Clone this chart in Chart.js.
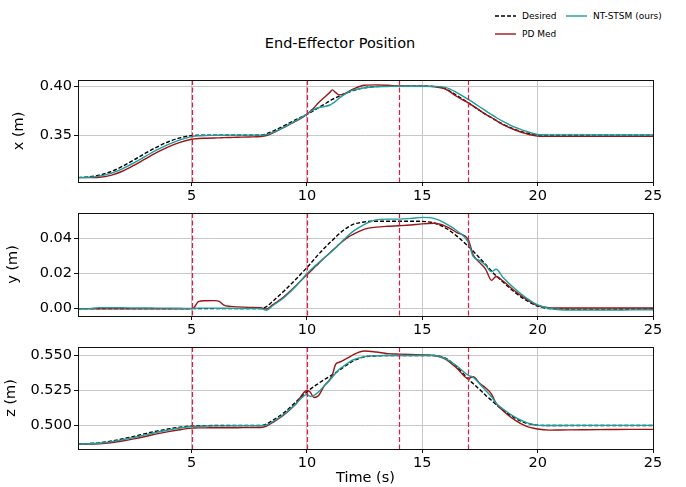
<!DOCTYPE html>
<html>
<head>
<meta charset="utf-8">
<script src="https://cdn.jsdelivr.net/npm/chart.js@4.4.1/dist/chart.umd.min.js"></script>
<style>
  html, body { margin: 0; padding: 0; background: #fff; }
  body { width: 686px; height: 487px; position: relative; overflow: hidden; font-family: 'DejaVu Sans', sans-serif; color: #000; }
  .panel { position: absolute; left: 0; }
  #title { position: absolute; top: 34px; left: 0; width: 680px; text-align: center; font-size: 14.5px; line-height: 18px; }
  .leg { position: absolute; font-size: 9px; line-height: 11px; white-space: nowrap; }
  .sw { position: absolute; }
</style>
</head>
<body>
<div id="title">End-Effector Position</div>

<svg class="sw" style="left:495px;top:11px" width="21" height="10"><line x1="0" y1="5" x2="21" y2="5" stroke="#000" stroke-width="1.4" stroke-dasharray="4 2"/></svg>
<div class="leg" style="left:522px;top:10.5px">Desired</div>
<svg class="sw" style="left:566px;top:11px" width="21" height="10"><line x1="0" y1="5" x2="21" y2="5" stroke="#1b9e9e" stroke-width="1.4"/></svg>
<div class="leg" style="left:593px;top:10.5px">NT-STSM (ours)</div>
<svg class="sw" style="left:495px;top:29px" width="21" height="10"><line x1="0" y1="5" x2="21" y2="5" stroke="#9c1414" stroke-width="1.4"/></svg>
<div class="leg" style="left:522px;top:28.5px">PD Med</div>

<canvas id="cx" class="panel" style="top:60px" width="686" height="150"></canvas>
<canvas id="cy" class="panel" style="top:200px" width="686" height="140"></canvas>
<canvas id="cz" class="panel" style="top:335px" width="686" height="152"></canvas>

<script>
// time stamps (s)
const time = [0.08, 0.5, 1, 1.5, 2, 2.5, 3, 3.5, 4, 4.5,
  5, 5.1, 5.3, 5.6, 6, 6.2, 6.4, 6.7, 7, 7.5,
  8, 8.25, 8.5, 9, 9.5, 10, 10.15, 10.3, 10.5, 10.75,
  11, 11.1, 11.25, 11.4, 11.6, 11.8, 12, 12.5, 13, 13.5,
  14, 14.5, 15, 15.5, 16, 16.5, 17, 17.2, 17.5, 17.75,
  18, 18.2, 18.5, 19, 19.5, 20, 20.5, 21, 22, 23, 24, 25];

// x (m)
const xDesired = [0.3065, 0.3072, 0.3090, 0.3125, 0.3180, 0.3245, 0.3315, 0.3378, 0.3432, 0.3472,
  0.3495, 0.3497, 0.3499, 0.3500, 0.3500, 0.3500, 0.3500, 0.3500, 0.3500, 0.3500,
  0.3500, 0.3513, 0.3537, 0.3595, 0.3655, 0.3712, 0.3732, 0.3752, 0.3780, 0.3815,
  0.3852, 0.3865, 0.3882, 0.3898, 0.3918, 0.3937, 0.3955, 0.3985, 0.3997, 0.4000,
  0.4000, 0.4000, 0.4000, 0.3998, 0.3975, 0.3905, 0.3830, 0.3798, 0.3750, 0.3712,
  0.3678, 0.3650, 0.3612, 0.3560, 0.3522, 0.3502, 0.3500, 0.3500, 0.3500, 0.3500, 0.3500, 0.3500];
const xOurs = [0.3065, 0.3068, 0.3080, 0.3108, 0.3155, 0.3215, 0.3282, 0.3348, 0.3405, 0.3452,
  0.3485, 0.3489, 0.3493, 0.3496, 0.3498, 0.3499, 0.3499, 0.3500, 0.3500, 0.3500,
  0.3500, 0.3505, 0.3525, 0.3580, 0.3645, 0.3715, 0.3740, 0.3762, 0.3780, 0.3792,
  0.3808, 0.3822, 0.3848, 0.3878, 0.3912, 0.3940, 0.3960, 0.3985, 0.3995, 0.3998,
  0.4000, 0.4000, 0.4000, 0.3999, 0.3988, 0.3935, 0.3865, 0.3835, 0.3788, 0.3748,
  0.3710, 0.3680, 0.3640, 0.3582, 0.3540, 0.3506, 0.3502, 0.3502, 0.3502, 0.3501, 0.3501, 0.3501];
const xPd = [0.3065, 0.3065, 0.3068, 0.3088, 0.3130, 0.3190, 0.3257, 0.3322, 0.3380, 0.3425,
  0.3458, 0.3461, 0.3465, 0.3468, 0.3471, 0.3472, 0.3474, 0.3476, 0.3478, 0.3481,
  0.3486, 0.3496, 0.3520, 0.3578, 0.3640, 0.3712, 0.3745, 0.3778, 0.3830, 0.3885,
  0.3938, 0.3963, 0.3935, 0.3912, 0.3922, 0.3945, 0.3970, 0.4010, 0.4014, 0.4010,
  0.4003, 0.4001, 0.4000, 0.3996, 0.3972, 0.3895, 0.3830, 0.3800, 0.3752, 0.3712,
  0.3680, 0.3650, 0.3608, 0.3555, 0.3515, 0.3490, 0.3487, 0.3487, 0.3487, 0.3487, 0.3487, 0.3487];

// y (m)
const yDesired = [0, 0, 0, 0, 0, 0, 0, 0, 0, 0,
  0, 0, 0, 0, 0, 0, 0, 0, 0, 0,
  0.0000, 0.0012, 0.0040, 0.0100, 0.0165, 0.0235, 0.0257, 0.0280, 0.0310, 0.0345,
  0.0378, 0.0390, 0.0410, 0.0428, 0.0450, 0.0468, 0.0482, 0.0496, 0.0500, 0.0500,
  0.0500, 0.0500, 0.0499, 0.0490, 0.0462, 0.0415, 0.0356, 0.0330, 0.0288, 0.0252,
  0.0215, 0.0188, 0.0152, 0.0095, 0.0048, 0.0015, 0.0000, -0.0003, -0.0004, -0.0004, -0.0003, -0.0002];
const yOurs = [-0.0002, -0.0001, 0.0006, 0.0005, 0.0005, 0.0004, 0.0004, 0.0003, 0.0003, 0.0002,
  0.0001, 0.0002, 0.0003, 0.0003, 0.0003, 0.0002, 0.0002, 0.0002, 0.0001, 0.0001,
  0.0000, -0.0009, 0.0015, 0.0062, 0.0125, 0.0200, 0.0220, 0.0238, 0.0262, 0.0290,
  0.0318, 0.0330, 0.0348, 0.0368, 0.0395, 0.0420, 0.0442, 0.0482, 0.0508, 0.0512,
  0.0512, 0.0516, 0.0522, 0.0516, 0.0488, 0.0445, 0.0378, 0.0300, 0.0275, 0.0248,
  0.0212, 0.0225, 0.0178, 0.0115, 0.0062, 0.0022, 0.0002, -0.0006, -0.0008, -0.0008, -0.0007, -0.0006];
const yPd = [0.0000, 0.0000, -0.0001, -0.0001, -0.0001, -0.0001, -0.0001, -0.0001, -0.0001, -0.0001,
  0.0000, 0.0005, 0.0040, 0.0045, 0.0046, 0.0042, 0.0020, 0.0013, 0.0010, 0.0007,
  0.0005, -0.0002, 0.0020, 0.0068, 0.0128, 0.0194, 0.0212, 0.0232, 0.0257, 0.0290,
  0.0320, 0.0332, 0.0350, 0.0368, 0.0390, 0.0410, 0.0425, 0.0455, 0.0466, 0.0471,
  0.0474, 0.0478, 0.0485, 0.0488, 0.0472, 0.0435, 0.0392, 0.0310, 0.0262, 0.0225,
  0.0162, 0.0184, 0.0158, 0.0102, 0.0055, 0.0018, 0.0006, 0.0004, 0.0004, 0.0004, 0.0004, 0.0004];

// z (m)
const zDesired = [0.4868, 0.4870, 0.4876, 0.4888, 0.4904, 0.4922, 0.4942, 0.4960, 0.4975, 0.4988,
  0.4996, 0.4997, 0.4998, 0.4999, 0.5000, 0.5000, 0.5000, 0.5000, 0.5000, 0.5000,
  0.5000, 0.5010, 0.5035, 0.5090, 0.5165, 0.5240, 0.5260, 0.5278, 0.5300, 0.5328,
  0.5352, 0.5362, 0.5378, 0.5395, 0.5418, 0.5440, 0.5462, 0.5490, 0.5498, 0.5500,
  0.5500, 0.5500, 0.5500, 0.5500, 0.5482, 0.5420, 0.5330, 0.5300, 0.5255, 0.5215,
  0.5180, 0.5150, 0.5110, 0.5055, 0.5018, 0.5002, 0.5000, 0.5000, 0.5000, 0.5000, 0.5000, 0.5000];
const zOurs = [0.4868, 0.4869, 0.4873, 0.4883, 0.4897, 0.4914, 0.4933, 0.4952, 0.4968, 0.4982,
  0.4993, 0.4994, 0.4995, 0.4996, 0.4997, 0.4997, 0.4997, 0.4998, 0.4998, 0.4998,
  0.4998, 0.5004, 0.5025, 0.5080, 0.5150, 0.5222, 0.5208, 0.5215, 0.5240, 0.5283,
  0.5325, 0.5345, 0.5375, 0.5402, 0.5425, 0.5448, 0.5468, 0.5492, 0.5498, 0.5500,
  0.5500, 0.5500, 0.5500, 0.5500, 0.5478, 0.5425, 0.5358, 0.5345, 0.5295, 0.5250,
  0.5205, 0.5160, 0.5118, 0.5062, 0.5022, 0.5001, 0.5000, 0.5000, 0.5001, 0.5001, 0.5001, 0.5001];
const zPd = [0.4868, 0.4868, 0.4870, 0.4877, 0.4889, 0.4904, 0.4921, 0.4940, 0.4956, 0.4970,
  0.4981, 0.4982, 0.4983, 0.4983, 0.4984, 0.4984, 0.4984, 0.4984, 0.4984, 0.4985,
  0.4986, 0.4995, 0.5020, 0.5075, 0.5150, 0.5250, 0.5238, 0.5200, 0.5212, 0.5283,
  0.5330, 0.5360, 0.5438, 0.5452, 0.5468, 0.5485, 0.5505, 0.5532, 0.5525, 0.5514,
  0.5510, 0.5507, 0.5505, 0.5500, 0.5475, 0.5410, 0.5335, 0.5348, 0.5300, 0.5268,
  0.5225, 0.5158, 0.5105, 0.5040, 0.4995, 0.4975, 0.4967, 0.4968, 0.4970, 0.4971, 0.4972, 0.4972];

const eventTimes = [5, 10, 14, 17];
const timeTicks = [5, 10, 15, 20, 25];
const xTicks = [0.35, 0.40];
const yTicks = [0.00, 0.02, 0.04];
const zTicks = [0.500, 0.525, 0.550];

Chart.defaults.font.family = "'DejaVu Sans', sans-serif";
Chart.defaults.font.size = 14.5;
Chart.defaults.color = '#000';

// black frame around each axes + red dashed event lines
const framePlugin = {
    id: 'framePlugin',
    afterDatasetsDraw(chart) {
        const ctx = chart.ctx;
        const a = chart.chartArea;
        const sx = chart.scales.x;
        ctx.save();
        ctx.strokeStyle = '#e8173f';
        ctx.lineWidth = 1.2;
        ctx.setLineDash([5, 2.5]);
        eventTimes.forEach(function (t) {
            const px = Math.round(sx.getPixelForValue(t)) + 0.5;
            ctx.beginPath();
            ctx.moveTo(px, a.top);
            ctx.lineTo(px, a.bottom);
            ctx.stroke();
        });
        ctx.setLineDash([]);
        ctx.strokeStyle = '#111';
        ctx.lineWidth = 1;
        ctx.strokeRect(a.left + 0.5, a.top + 0.5, a.right - a.left, a.bottom - a.top);
        ctx.restore();
    }
};

function pts(vals) {
    return time.map(function (t, i) { return { x: t, y: vals[i] }; });
}

function makePanel(id, p) {
    new Chart(document.getElementById(id), {
        type: 'line',
        data: {
            datasets: [
                { label: 'Desired', data: pts(p.desired), borderColor: '#000', borderDash: [4, 2], borderWidth: 1.4, order: 2 },
                { label: 'PD Med', data: pts(p.pd), borderColor: '#9c1414', borderWidth: 1.4, order: 1 },
                { label: 'NT-STSM (ours)', data: pts(p.ours), borderColor: '#1b9e9e', borderWidth: 1.4, order: 0 }
            ]
        },
        options: {
            responsive: false,
            animation: false,
            devicePixelRatio: 1,
            elements: { point: { radius: 0 }, line: { cubicInterpolationMode: 'monotone' } },
            layout: { padding: { top: p.padTop, right: 33, left: 0, bottom: 0 } },
            plugins: { legend: { display: false }, tooltip: { enabled: false } },
            scales: {
                x: {
                    type: 'linear',
                    min: 0.08,
                    max: 25,
                    afterBuildTicks: function (s) { s.ticks = timeTicks.map(function (v) { return { value: v }; }); },
                    afterFit: function (s) { s.height = p.xHeight; },
                    ticks: { padding: 2, maxRotation: 0, callback: function (v) { return String(v); } },
                    grid: { color: '#c8c8c8', lineWidth: 1, tickLength: 4, tickColor: '#111', drawTicks: true },
                    border: { display: false },
                    title: { display: !!p.xTitle, text: p.xTitle || '', font: { size: 14.5 }, padding: { top: 0, bottom: 0 } }
                },
                y: {
                    min: p.yMin,
                    max: p.yMax,
                    afterBuildTicks: function (s) { s.ticks = p.ticks.map(function (v) { return { value: v }; }); },
                    afterFit: function (s) { s.width = 78; },
                    ticks: { padding: 2, callback: function (v) { return Number(v).toFixed(p.decimals); } },
                    grid: { color: '#c8c8c8', lineWidth: 1, tickLength: 4, tickColor: '#111', drawTicks: true },
                    border: { display: false },
                    title: { display: true, text: p.label, font: { size: 14.5 }, padding: { top: p.titlePad, bottom: 0 } }
                }
            }
        },
        plugins: [framePlugin]
    });
}

makePanel('cx', { desired: xDesired, ours: xOurs, pd: xPd, yMin: 0.302, yMax: 0.4064, ticks: xTicks, decimals: 2,
    label: 'x (m)', padTop: 20, xHeight: 28, titlePad: 11 });
makePanel('cy', { desired: yDesired, ours: yOurs, pd: yPd, yMin: -0.0042, yMax: 0.0547, ticks: yTicks, decimals: 2,
    label: 'y (m)', padTop: 13, xHeight: 24, titlePad: 5 });
makePanel('cz', { desired: zDesired, ours: zOurs, pd: zPd, yMin: 0.4832, yMax: 0.5561, ticks: zTicks, decimals: 3,
    label: 'z (m)', padTop: 12, xHeight: 38, titlePad: 3, xTitle: 'Time (s)' });
</script>
</body>
</html>
